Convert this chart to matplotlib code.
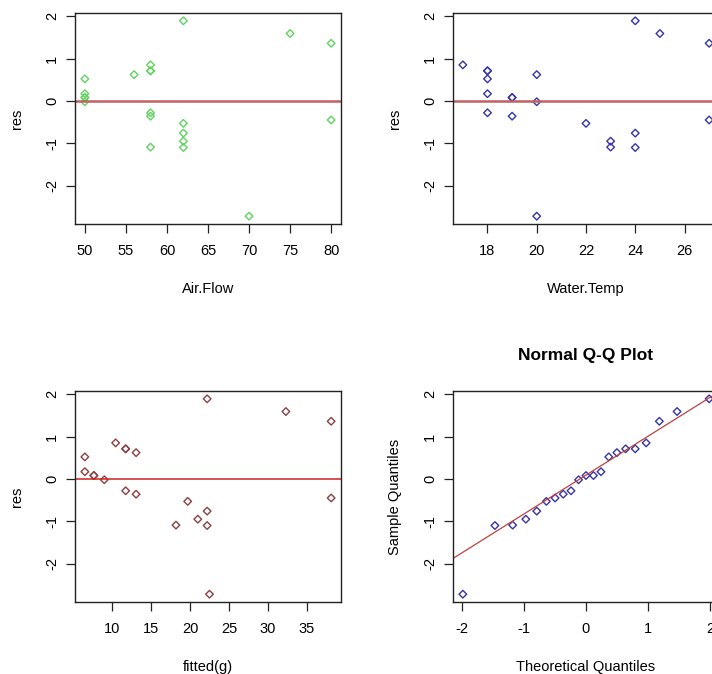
import matplotlib
matplotlib.use("Agg")
import matplotlib.pyplot as plt
import numpy as np
from statistics import NormalDist

plt.rcParams['font.family'] = ['Liberation Sans', 'DejaVu Sans']
plt.rcParams['font.size'] = 10.5
plt.rcParams['axes.unicode_minus'] = False

air_flow = [80, 80, 75, 62, 62, 62, 62, 62, 58, 58, 58, 58, 58, 58, 50, 50, 50, 50, 50, 56, 70]
water_temp = [27, 27, 25, 24, 22, 23, 24, 24, 23, 18, 18, 17, 18, 19, 18, 18, 19, 19, 20, 20, 20]
fitted_g = [38.15, 38.15, 32.33, 22.2, 19.7, 21.0, 22.2, 22.2, 18.19, 11.72, 11.72,
            10.43, 11.72, 13.06, 6.47, 6.47, 7.63, 7.63, 8.97, 13.06, 22.5]
res = [1.36, -0.45, 1.59, 1.89, -0.53, -0.95, -1.10, -0.76, -1.09, 0.71, 0.71,
       0.85, -0.28, -0.36, 0.52, 0.17, 0.08, 0.08, -0.02, 0.62, -2.72]

air_ticks = [50, 55, 60, 65, 70, 75, 80]
water_ticks = [18, 20, 22, 24, 26]
fitted_ticks = [10, 15, 20, 25, 30, 35]
qq_ticks = [-2, -1, 0, 1, 2]
res_ticks = [-2, -1, 0, 1, 2]

W, H = 712, 674
fig = plt.figure(figsize=(W / 100, H / 100), dpi=100)

aw, ah = 266 / W, 211 / H
pos = {
    'air': [75 / W, 1 - 224 / H, aw, ah],
    'water': [453 / W, 1 - 224 / H, aw, ah],
    'fit': [75 / W, 1 - 602 / H, aw, ah],
    'qq': [453 / W, 1 - 602 / H, aw, ah],
}


def r_style(ax, xticks, ylabel, xlabel):
    ax.margins(0.04)
    ax.set_xticks(xticks)
    ax.set_yticks(res_ticks)
    ax.tick_params(direction='out', length=6.5, width=0.9, color='#222222')
    ax.tick_params(axis='x', pad=8)
    ax.tick_params(axis='y', pad=5, labelrotation=90)
    for lab in ax.get_yticklabels():
        lab.set_verticalalignment('center')
    for s in ax.spines.values():
        s.set_linewidth(1.0)
        s.set_color('#222222')
    ax.set_ylabel(ylabel, labelpad=15)
    ax.set_xlabel(xlabel, labelpad=17)


mk = dict(marker='D', s=15, facecolors='none', linewidths=1.0)

ax1 = fig.add_axes(pos['air'])
ax1.scatter(air_flow, res, edgecolors='#5fd35f', **mk)
ax1.axhline(0, color='#c06060', lw=1.8)
r_style(ax1, air_ticks, 'res', 'Air.Flow')

ax2 = fig.add_axes(pos['water'])
ax2.scatter(water_temp, res, edgecolors='#3535a5', **mk)
ax2.axhline(0, color='#c06060', lw=1.8)
r_style(ax2, water_ticks, 'res', 'Water.Temp')

ax3 = fig.add_axes(pos['fit'])
ax3.scatter(fitted_g, res, edgecolors='#8b4040', **mk)
ax3.axhline(0, color='#d02020', lw=1.1)
r_style(ax3, fitted_ticks, 'res', 'fitted(g)')

# normal Q-Q plot, same as qqnorm/qqline
n = len(res)
sample_q = np.sort(res)
theo_q = np.array([NormalDist().inv_cdf((i + 0.5) / n) for i in range(n)])
ax4 = fig.add_axes(pos['qq'])
ax4.scatter(theo_q, sample_q, edgecolors='#3535a5', **mk)
r_style(ax4, qq_ticks, 'Sample Quantiles', 'Theoretical Quantiles')
y1, y3 = np.quantile(res, [0.25, 0.75])
x1, x3 = NormalDist().inv_cdf(0.25), NormalDist().inv_cdf(0.75)
slope = (y3 - y1) / (x3 - x1)
ax4.axline((x1, y1), slope=slope, color='#c04040', lw=0.9)
ax4.set_title('Normal Q-Q Plot', fontweight='bold', fontsize=12.5, pad=22)

fig.savefig('out.png', dpi=100)
